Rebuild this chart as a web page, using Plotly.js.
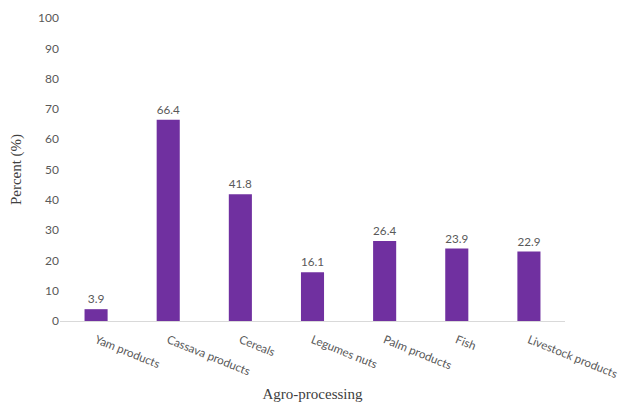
<!DOCTYPE html>
<html>
<head>
<meta charset="utf-8">
<script src="https://cdn.plot.ly/plotly-3.0.1.min.js"></script>
<style>html,body{margin:0;padding:0;background:#fff}</style>
</head>
<body>
<div id="chart" style="width:619px;height:402px"></div>
<script>
var categories = ["Yam products", "Cassava products", "Cereals", "Legumes nuts", "Palm products", "Fish", "Livestock products"];
var values = [3.9, 66.4, 41.8, 16.1, 26.4, 23.9, 22.9];
var yTicks = [0, 10, 20, 30, 40, 50, 60, 70, 80, 90, 100];

var trace = {
  type: "bar",
  x: categories,
  y: values,
  marker: {color: "#7030A0"},
  text: values.map(function(v){return v.toFixed(1);}),
  textposition: "outside",
  textfont: {family: "Lato, sans-serif", size: 12, color: "#595959"},
  cliponaxis: false,
  hoverinfo: "none"
};

var layout = {
  width: 619, height: 402,
  margin: {l: 60, r: 54, t: 18, b: 81},
  paper_bgcolor: "#fff", plot_bgcolor: "#fff",
  bargap: 0.68,
  showlegend: false,
  font: {family: "Lato, sans-serif", color: "#595959"},
  xaxis: {
    type: "category",
    tickangle: 22,
    ticklabelstandoff: 7,
    tickfont: {family: "Lato, sans-serif", size: 11.6, color: "#595959"},
    showline: true, linecolor: "#d9d9d9", linewidth: 1,
    ticks: "", showgrid: false,
    title: {text: "Agro-processing", font: {family: "Liberation Serif, Times New Roman, serif", size: 15, color: "#404040"}, standoff: 12}
  },
  yaxis: {
    range: [0, 100],
    tickvals: yTicks,
    ticktext: yTicks.map(String),
    tickfont: {family: "Lato, sans-serif", size: 12, color: "#595959"},
    showgrid: false, zeroline: false, showline: false, ticks: "",
    ticklen: 0,
    title: {text: "Percent (%)", font: {family: "Liberation Serif, Times New Roman, serif", size: 15, color: "#404040"}, standoff: 12}
  }
};

Plotly.newPlot("chart", [trace], layout, {displayModeBar: false, staticPlot: true});
</script>
</body>
</html>
